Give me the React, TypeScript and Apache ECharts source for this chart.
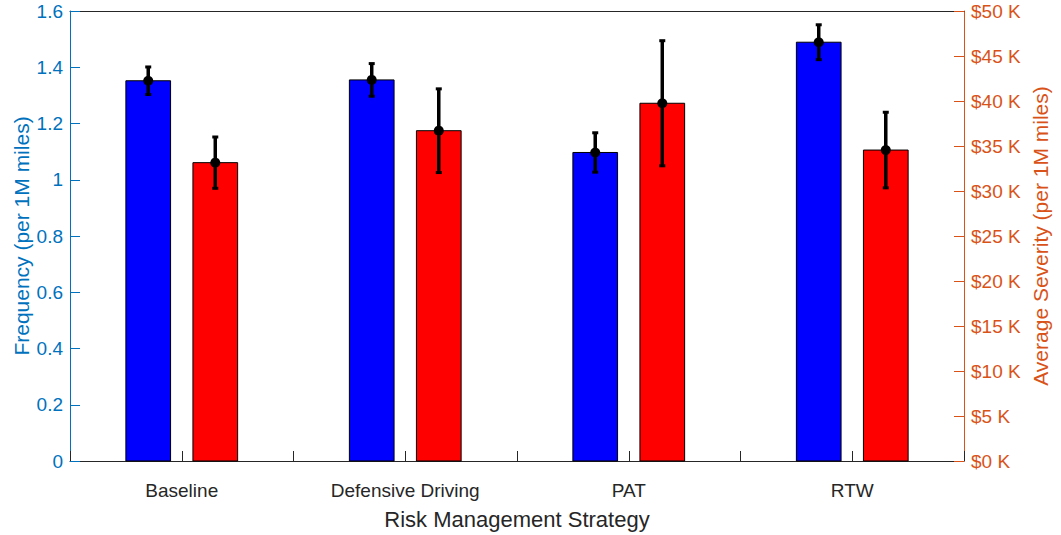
import React, { useEffect, useRef } from "react";
import * as echarts from "echarts";

// Risk management strategies on the x axis
const categories = ["Baseline", "Defensive Driving", "PAT", "RTW"];

// Claim frequency per 1M miles (left axis) with error half-widths
const frequency = [1.352, 1.355, 1.097, 1.489];
const frequencyErr = [0.049, 0.058, 0.07, 0.062];

// Average severity per 1M miles in dollars (right axis) with error half-widths
const severity = [33150, 36700, 39750, 34550];
const severityErr = [2850, 4650, 6950, 4200];

// Axis tick settings
const freqTicks = { min: 0, max: 1.6, interval: 0.2 };
const sevTicks = { min: 0, max: 50000, interval: 5000 };

const BLUE_AXIS = "#0072BD";
const ORANGE_AXIS = "#D95319";
const DARK = "#262626";
const FONT = "'Liberation Sans', Arial, Helvetica, sans-serif";

const BAR_HALF = 0.1;
const OFFSET = 0.15;

function barRender(color: string) {
  return (params: any, api: any) => {
    const x = api.value(0);
    const y = api.value(1);
    const p0 = api.coord([x - BAR_HALF, y]);
    const p1 = api.coord([x + BAR_HALF, 0]);
    return {
      type: "rect",
      shape: { x: p0[0], y: p0[1], width: p1[0] - p0[0], height: p1[1] - p0[1] },
      style: { fill: color, stroke: "#000", lineWidth: 1 },
    };
  };
}

function errRender(params: any, api: any) {
  const x = api.value(0);
  const y = api.value(1);
  const e = api.value(2);
  const top = api.coord([x, y + e]);
  const bot = api.coord([x, y - e]);
  const mid = api.coord([x, y]);
  const capW = 6;
  const capH = 3;
  return {
    type: "group",
    children: [
      {
        type: "line",
        shape: { x1: top[0], y1: top[1], x2: bot[0], y2: bot[1] },
        style: { stroke: "#000", lineWidth: 3.5 },
      },
      {
        type: "rect",
        shape: { x: top[0] - capW / 2, y: top[1] - capH / 2, width: capW, height: capH },
        style: { fill: "#000" },
      },
      {
        type: "rect",
        shape: { x: bot[0] - capW / 2, y: bot[1] - capH / 2, width: capW, height: capH },
        style: { fill: "#000" },
      },
      {
        type: "circle",
        shape: { cx: mid[0], cy: mid[1], r: 5 },
        style: { fill: "#000" },
      },
    ],
  };
}

export default function App() {
  const ref = useRef<HTMLDivElement>(null);

  useEffect(() => {
    if (!ref.current) return;
    const chart = echarts.init(ref.current, undefined, { renderer: "svg" });

    const freqData = categories.map((_, i) => [i + 1 - OFFSET, frequency[i], frequencyErr[i]]);
    const sevData = categories.map((_, i) => [i + 1 + OFFSET, severity[i], severityErr[i]]);

    const xCommon = {
      type: "value" as const,
      min: 0.5,
      max: 4.5,
      interval: 0.5,
      splitLine: { show: false },
    };

    chart.setOption({
      animation: false,
      backgroundColor: "#fff",
      textStyle: { fontFamily: FONT },
      grid: {
        left: 70,
        right: 97,
        top: 11,
        bottom: 74,
        containLabel: false,
        outerBoundsMode: "none",
      },
      xAxis: [
        {
          ...xCommon,
          position: "bottom",
          axisLine: { show: true, onZero: false, lineStyle: { color: DARK, width: 1 } },
          axisTick: { show: true, inside: true, length: 10, lineStyle: { color: DARK } },
          axisLabel: {
            show: true,
            color: DARK,
            fontSize: 19,
            fontFamily: FONT,
            margin: 20,
            showMinLabel: true,
            showMaxLabel: true,
            formatter: (v: number) => {
              const idx = Math.round(v) - 1;
              return Math.abs(v - Math.round(v)) < 1e-6 && idx >= 0 && idx < categories.length
                ? categories[idx]
                : "";
            },
          },
          name: "Risk Management Strategy",
          nameLocation: "middle",
          nameGap: 47,
          nameMoveOverlap: false,
          nameTextStyle: { color: DARK, fontSize: 22, fontFamily: FONT },
        },
        {
          ...xCommon,
          position: "top",
          axisLine: { show: true, onZero: false, lineStyle: { color: DARK, width: 1 } },
          axisTick: { show: false },
          axisLabel: { show: false },
        },
      ],
      yAxis: [
        {
          type: "value",
          position: "left",
          ...freqTicks,
          splitLine: { show: false },
          axisLine: { show: true, onZero: false, lineStyle: { color: BLUE_AXIS, width: 1 } },
          axisTick: { show: true, inside: true, length: 10, lineStyle: { color: BLUE_AXIS } },
          axisLabel: { color: BLUE_AXIS, fontSize: 19, fontFamily: FONT, margin: 7 },
          name: "Frequency (per 1M miles)",
          nameLocation: "middle",
          nameRotate: 90,
          nameGap: 38,
          nameMoveOverlap: false,
          nameTextStyle: { color: BLUE_AXIS, fontSize: 21, fontFamily: FONT },
        },
        {
          type: "value",
          position: "right",
          ...sevTicks,
          splitLine: { show: false },
          axisLine: { show: true, onZero: false, lineStyle: { color: ORANGE_AXIS, width: 1 } },
          axisTick: { show: true, inside: true, length: 10, lineStyle: { color: ORANGE_AXIS } },
          axisLabel: {
            color: ORANGE_AXIS,
            fontSize: 19,
            fontFamily: FONT,
            margin: 7,
            formatter: (v: number) => "$" + Math.round(v / 1000) + " K",
          },
          name: "Average Severity (per 1M miles)",
          nameLocation: "middle",
          nameRotate: 90,
          nameGap: 66,
          nameMoveOverlap: false,
          nameTextStyle: { color: ORANGE_AXIS, fontSize: 21, fontFamily: FONT },
        },
      ],
      series: [
        {
          type: "custom",
          name: "Frequency",
          xAxisIndex: 0,
          yAxisIndex: 0,
          renderItem: barRender("#0000FF"),
          encode: { x: 0, y: 1 },
          data: freqData,
          z: 2,
        },
        {
          type: "custom",
          name: "Severity",
          xAxisIndex: 0,
          yAxisIndex: 1,
          renderItem: barRender("#FF0000"),
          encode: { x: 0, y: 1 },
          data: sevData,
          z: 2,
        },
        {
          type: "custom",
          name: "Frequency error",
          xAxisIndex: 0,
          yAxisIndex: 0,
          renderItem: errRender,
          encode: { x: 0, y: 1 },
          data: freqData,
          z: 3,
        },
        {
          type: "custom",
          name: "Severity error",
          xAxisIndex: 0,
          yAxisIndex: 1,
          renderItem: errRender,
          encode: { x: 0, y: 1 },
          data: sevData,
          z: 3,
        },
      ],
    });

    return () => chart.dispose();
  }, []);

  return (
    <div
      ref={ref}
      style={{ position: "fixed", left: 0, top: 0, width: 1061, height: 535, background: "#fff" }}
    />
  );
}
